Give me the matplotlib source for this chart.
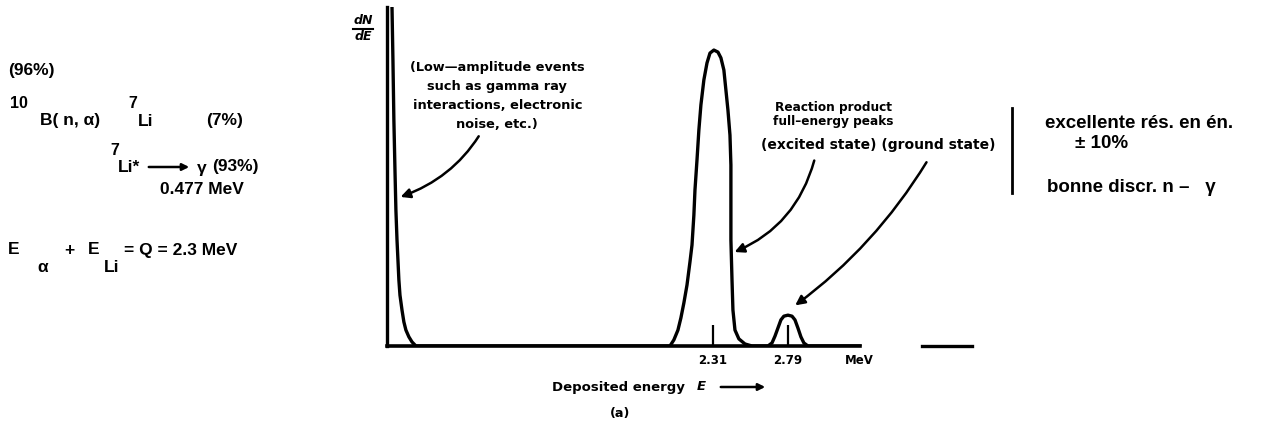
import matplotlib
matplotlib.use('Agg')
import matplotlib.pyplot as plt

plt.rcParams['font.family'] = ['Liberation Sans', 'DejaVu Sans']
plt.rcParams['mathtext.fontset'] = 'dejavusans'

# Spectrum (energy in MeV, dN/dE in arbitrary units 0-100)
low_E = [0.256, 0.262, 0.268, 0.275, 0.281, 0.288, 0.294, 0.300, 0.307, 0.320,
         0.332, 0.345, 0.364, 0.384, 0.409]
low_N = [100, 84.4, 66.7, 51.9, 40.1, 31.3, 25.4, 19.5, 15.0, 10.6,
         7.1, 4.7, 2.7, 1.2, 0]

main_E = [2.035, 2.060, 2.086, 2.105, 2.124, 2.144, 2.163, 2.176, 2.188, 2.195,
          2.208, 2.220, 2.233, 2.252, 2.272, 2.291, 2.316, 2.342, 2.361, 2.380,
          2.393, 2.406, 2.419, 2.425, 2.425, 2.425, 2.432, 2.438, 2.451, 2.476,
          2.515, 2.560]
main_N = [0, 1.8, 4.7, 8.3, 12.7, 18.0, 24.8, 29.8, 38.6, 46.0,
          54.9, 63.7, 71.1, 78.5, 83.5, 86.4, 87.3, 86.7, 85.0, 81.4,
          75.5, 69.6, 62.2, 53.4, 43.1, 31.3, 19.5, 10.6, 4.7, 2.1,
          0.6, 0]

small_E = [2.662, 2.688, 2.707, 2.726, 2.745, 2.764, 2.790, 2.816, 2.835, 2.854,
           2.873, 2.892, 2.918]
small_N = [0, 0.9, 2.9, 5.3, 7.7, 8.8, 9.1, 8.8, 7.7, 5.3, 2.7, 0.9, 0]

axis_end_E = 3.25
dash_E = [3.65, 3.97]
tick_E = [2.31, 2.79]
tick_labels = ['2.31', '2.79']

W, H = 1262, 425
fig = plt.figure(figsize=(W / 100, H / 100), dpi=100)
ax = fig.add_axes([387 / W, 79 / H, 590 / W, 339 / H])


def fx(x):
    return x / W


def fy(y):
    return 1 - y / H


# spectrum
E = low_E + main_E + small_E + [axis_end_E]
N = low_N + main_N + small_N + [0]
ax.plot(E, N, color='black', lw=2.4, solid_joinstyle='round')
ax.plot(dash_E, [0, 0], color='black', lw=2.4, clip_on=False)

ax.set_xlim(0.224, 4.0)
ax.set_ylim(0, 100)
for s in ['top', 'right']:
    ax.spines[s].set_visible(False)
ax.spines['left'].set_linewidth(2.4)
ax.spines['bottom'].set_linewidth(2.6)
ax.spines['bottom'].set_bounds(0.224, axis_end_E)
ax.set_yticks([])
ax.set_xticks(tick_E)
ax.set_xticklabels(tick_labels, fontsize=8.5, fontweight='bold', family='DejaVu Sans')
ax.tick_params(axis='x', direction='in', length=15, width=1.6, pad=6)
ax.annotate('MeV', xy=(axis_end_E, 0), xytext=(0, -6), textcoords='offset points',
            ha='center', va='top', fontsize=8.5, fontweight='bold', family='DejaVu Sans')

# dN/dE label
fig.text(fx(363), fy(21), 'dN', ha='center', va='center', fontsize=9,
         fontweight='bold', fontstyle='italic', family='DejaVu Sans')
fig.text(fx(363), fy(37), 'dE', ha='center', va='center', fontsize=9,
         fontweight='bold', fontstyle='italic', family='DejaVu Sans')
fig.lines.append(matplotlib.lines.Line2D([fx(353), fx(373)], [fy(29), fy(29)],
                                         transform=fig.transFigure, color='black', lw=1.5))

# annotations on the spectrum
ann = dict(fontweight='bold', family='DejaVu Sans')
arr = dict(arrowstyle='-|>', color='black', lw=1.8, mutation_scale=14)
ax.annotate('(Low\u2014amplitude events\nsuch as gamma ray\ninteractions, electronic\nnoise, etc.)',
            xy=(0.294, 43.7), xytext=(0.93, 73.7), ha='center', va='center', fontsize=9.3,
            linespacing=1.6, arrowprops=dict(connectionstyle='arc3,rad=-0.25', **arr),
            **ann)
ax.text(3.08, 68.3, 'Reaction product\nfull\u2013energy peaks', ha='center', va='center',
        fontsize=8.7, linespacing=1.1, **ann)
ax.text(2.62, 59.3, '(excited state) (ground state)', ha='left', va='center',
        fontsize=10, **ann)
ax.annotate('', xy=(2.432, 27.4), xytext=(2.963, 55.5),
            arrowprops=dict(connectionstyle='arc3,rad=-0.25', **arr))
ax.annotate('', xy=(2.822, 11.5), xytext=(3.686, 54.9),
            arrowprops=dict(connectionstyle='arc3,rad=-0.1', **arr))

fig.text(fx(552), fy(387), 'Deposited energy', ha='left', va='center', fontsize=9.5, **ann)
fig.text(fx(697), fy(387), 'E', ha='left', va='center', fontsize=9.5,
         fontstyle='italic', **ann)
fig.patches.append(matplotlib.patches.FancyArrowPatch(
    (fx(718), fy(387)), (fx(768), fy(387)), transform=fig.transFigure,
    arrowstyle='-|>', mutation_scale=10, lw=1.8, color='black'))
fig.text(fx(620), fy(414), '(a)', ha='center', va='center', fontsize=9.3, **ann)

# left-hand notes
big = 12.5
txt = dict(fontsize=big, va='center', fontweight='bold')
sup = dict(fontsize=11.5, va='center', fontweight='bold')
fig.text(fx(8), fy(70), '(96%)', **txt)
fig.text(fx(10), fy(103), '10', **sup)
fig.text(fx(40), fy(121), 'B( n, \u03b1)', **txt)
fig.text(fx(128), fy(103), '7', **sup)
fig.text(fx(138), fy(121), 'Li', **txt)
fig.text(fx(206), fy(121), '(7%)', **txt)
fig.text(fx(110), fy(150), '7', **sup)
fig.text(fx(118), fy(167), 'Li*', **txt)
fig.patches.append(matplotlib.patches.FancyArrowPatch(
    (fx(146), fy(167)), (fx(192), fy(167)), transform=fig.transFigure,
    arrowstyle='-|>', mutation_scale=10, lw=1.8, color='black'))
fig.text(fx(197), fy(168), '\u03b3', **txt)
fig.text(fx(212), fy(167), '(93%)', **txt)
fig.text(fx(160), fy(190), '0.477 MeV', **txt)
fig.text(fx(8), fy(250), 'E', **txt)
fig.text(fx(37), fy(268), '\u03b1', **txt)
fig.text(fx(64), fy(250), '+', **txt)
fig.text(fx(88), fy(250), 'E', **txt)
fig.text(fx(104), fy(268), 'Li', **txt)
fig.text(fx(124), fy(250), '= Q = 2.3 MeV', **txt)

# right-hand notes
fig.lines.append(matplotlib.lines.Line2D([fx(1012), fx(1012)], [fy(108), fy(193)],
                                         transform=fig.transFigure, color='black', lw=2))
rtxt = dict(fontsize=13.5, va='center', fontweight='bold')
fig.text(fx(1045), fy(124), 'excellente r\u00e9s. en \u00e9n.', **rtxt)
fig.text(fx(1075), fy(143), '\u00b1 10%', **rtxt)
fig.text(fx(1047), fy(188), 'bonne discr. n \u2013   \u03b3', **rtxt)

fig.savefig('out.png', dpi=100)
